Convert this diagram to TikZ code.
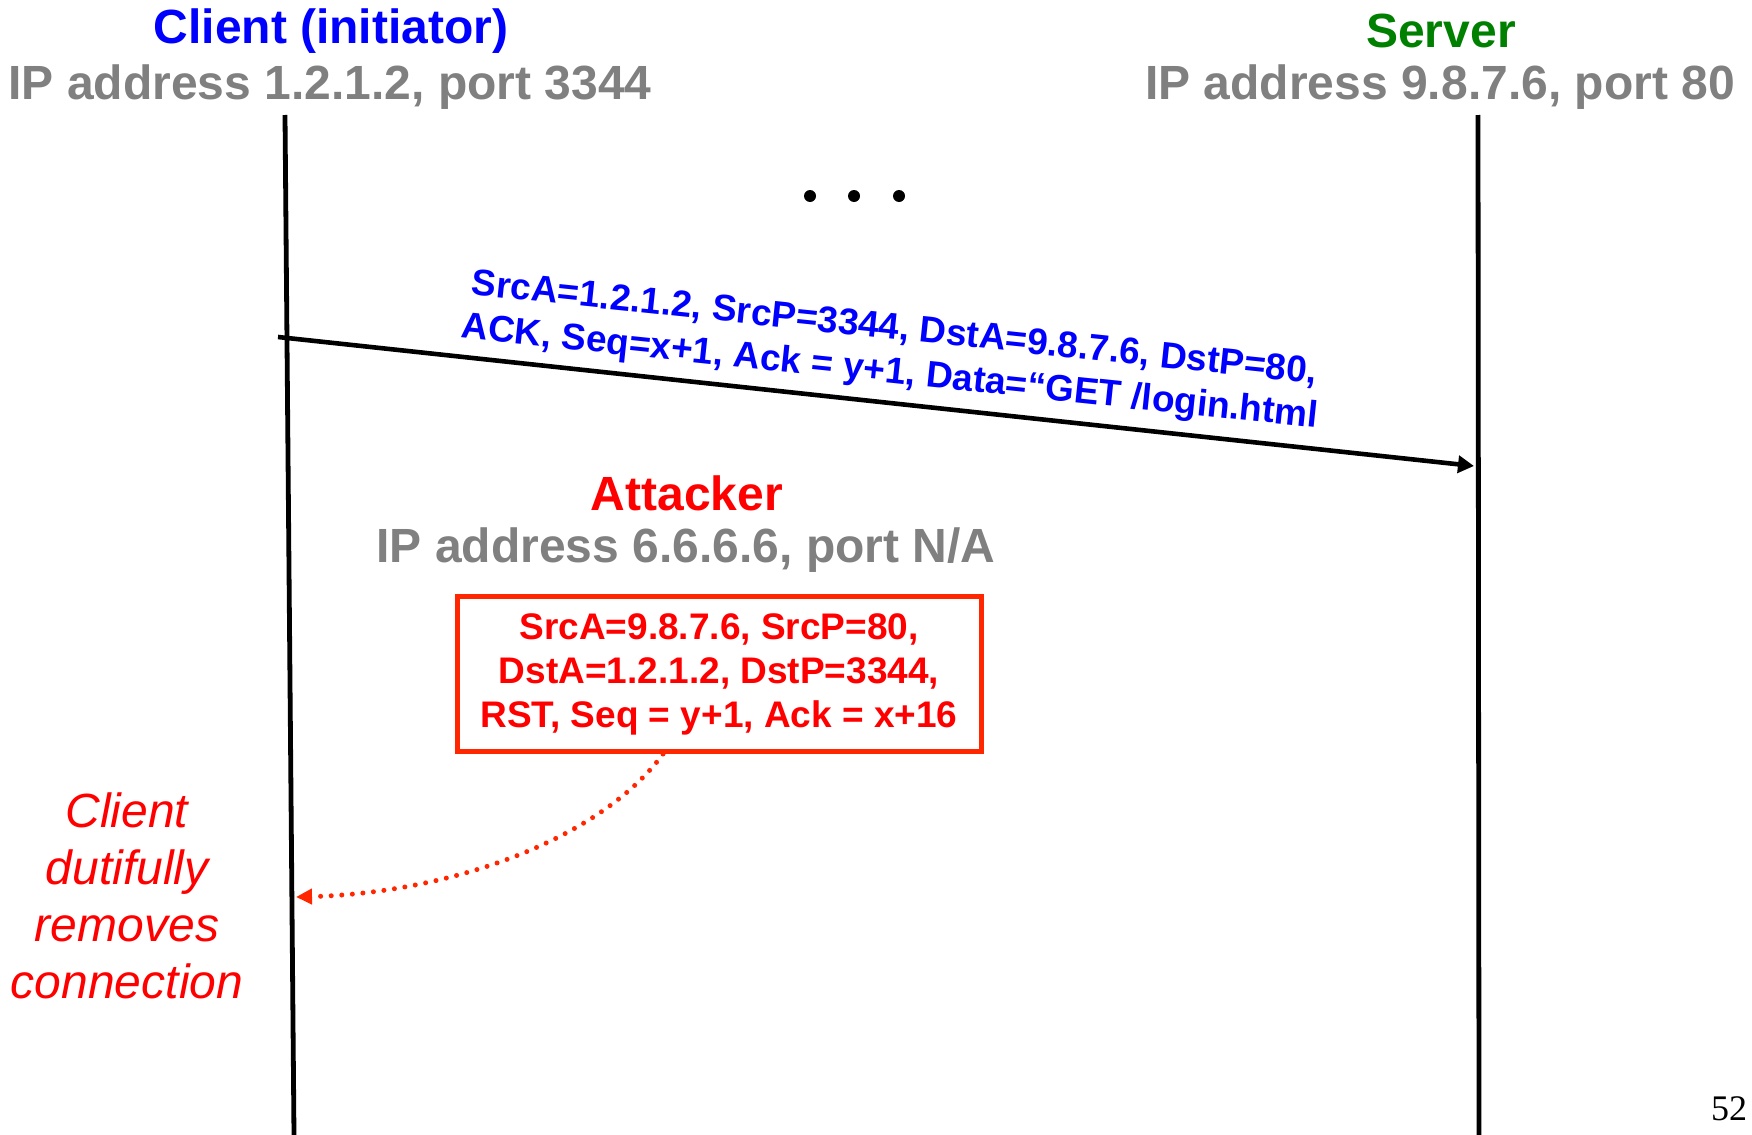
\documentclass[tikz,border=0pt]{standalone}
\usepackage{fontspec}
\setmainfont{Liberation Sans}
\newfontfamily\pagefont{Liberation Serif}
\usetikzlibrary{arrows.meta}
\definecolor{cblue}{RGB}{0,0,255}
\definecolor{cgreen}{RGB}{0,128,0}
\definecolor{cgray}{RGB}{128,128,128}
\definecolor{cred}{RGB}{255,0,0}
\definecolor{cbox}{RGB}{255,38,0}

\begin{document}
\begin{tikzpicture}[x=0.5pt,y=-0.5pt,
  title/.style={font=\fontsize{24pt}{28pt}\selectfont\bfseries, inner sep=0pt},
  addr/.style={title, text=cgray},
  msg/.style={font=\fontsize{18.5pt}{22pt}\selectfont\bfseries, align=center, inner sep=0pt},
  lifeline/.style={line width=2.4pt, black},
  msgarrow/.style={line width=2.3pt, black, -{Triangle[length=8pt,width=8.5pt]}},
  dotarrow/.style={line width=2.5pt, cbox, line cap=round, dash pattern=on 0pt off 5.3pt,
    -{Triangle[length=8pt,width=7.5pt]}},
  dot/.style={circle, fill=black, inner sep=0pt, minimum size=6pt},
  note/.style={font=\fontsize{24pt}{28.5pt}\selectfont\itshape, text=cred, align=center, inner sep=0pt}
]
\path[fill=white] (0,0) rectangle (1752,1135);
\useasboundingbox (0,0) rectangle (1752,1135);

% endpoints
\node[title, text=cblue] (clientname) at (331,31) {Client (initiator)};
\node[addr] (clientaddr) at (330,87) {IP address 1.2.1.2, port 3344};
\node[title, text=cgreen] (servername) at (1441,31) {Server};
\node[addr] (serveraddr) at (1440,87) {IP address 9.8.7.6, port 80};

% lifelines
\coordinate (ctop) at (285,115);
\coordinate (cbot) at (294,1135);
\coordinate (stop) at (1478,115);
\coordinate (sbot) at (1479,1135);
\draw[lifeline] (ctop) -- (cbot);
\draw[lifeline] (stop) -- (sbot);

% earlier exchange elided
\node[dot] (dot1) at (810,196) {};
\node[dot] (dot2) at (854,196) {};
\node[dot] (dot3) at (899,196) {};

% client request
\coordinate (ackstart) at (278,337);
\coordinate (ackend) at (1474,466);
\draw[msgarrow] (ackstart) -- (ackend);
\node[msg, text=cblue, rotate=-6] (acklabel) at (892,352)
  {SrcA=1.2.1.2, SrcP=3344, DstA=9.8.7.6, DstP=80,\\ACK, Seq=x+1, Ack = y+1, Data=“GET /login.html};

% attacker
\node[title, text=cred] (attacker) at (687,493) {Attacker};
\node[addr] (attackaddr) at (686,550) {IP address 6.6.6.6, port N/A};
\node[msg, text=cred, draw=cbox, line width=2.5pt, minimum width=262pt, minimum height=77.5pt] (rst) at (719,674)
  {SrcA=9.8.7.6, SrcP=80,\\DstA=1.2.1.2, DstP=3344,\\RST, Seq = y+1, Ack = x+16};

% forged reset reaches the client
\coordinate (rmv) at (296,897);
\draw[dotarrow] ([xshift=-28pt]rst.south) .. controls (600,840) and (450,893) .. (rmv);
\node[note] (removed) at (127,896) {Client\\dutifully\\removes\\connection};

\node[font=\pagefont\fontsize{18pt}{20pt}\selectfont, inner sep=0pt] (pagenum) at (1729,1109) {52};
\end{tikzpicture}
\end{document}
